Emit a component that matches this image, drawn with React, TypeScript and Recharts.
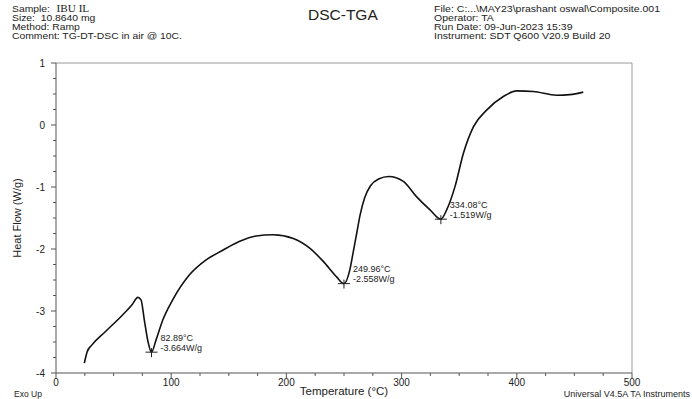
import React from 'react';
import { ComposedChart, Line, Scatter, XAxis, YAxis, ReferenceLine } from 'recharts';

// DSC trace (temperature in °C, heat flow in W/g)
const tempC = [
  24.6, 27, 31, 43, 58, 66, 71, 73.8, 76.7, 79.6, 82.89, 86.8, 92.6, 101.3, 115.7, 130,
  144.7, 159, 173.6, 188.6, 206, 220.5, 232, 243.6, 249.96, 255, 258, 261, 264, 268, 273,
  280, 289, 301.5, 313.1, 324.7, 334.08, 339.1, 346.4, 353.6, 362.3, 373.8, 388.3, 399.9,
  414.3, 434.6, 446, 457.7,
];
const heatFlow = [
  -3.84, -3.66, -3.55, -3.33, -3.06, -2.9, -2.78, -2.82, -3.15, -3.47, -3.664, -3.47, -3.15,
  -2.82, -2.42, -2.18, -2.02, -1.88, -1.79, -1.77, -1.83, -1.99, -2.2, -2.45, -2.558, -2.34,
  -2.05, -1.75, -1.45, -1.17, -0.98, -0.87, -0.83, -0.91, -1.16, -1.37, -1.519, -1.37, -0.99,
  -0.46, -0.03, 0.24, 0.46, 0.55, 0.54, 0.48, 0.49, 0.53,
];

// marked minima
const peakTemp = [82.89, 249.96, 334.08];
const peakFlow = [-3.664, -2.558, -1.519];

const xMajor = [0, 100, 200, 300, 400, 500];
const yMajor = [1, 0, -1, -2, -3, -4];

const headerLeft = ['Size:  10.8640 mg', 'Method: Ramp', 'Comment: TG-DT-DSC in air @ 10C.'];
const headerRight = [
  'File: C:...\\MAY23\\prashant oswal\\Composite.001',
  'Operator: TA',
  'Run Date: 09-Jun-2023 15:39',
  'Instrument: SDT Q600 V20.9 Build 20',
];

const curve = tempC.map((t, i) => ({ t, v: heatFlow[i] }));
const peaks = peakTemp.map((t, i) => ({ t, v: peakFlow[i] }));
const xTicks = Array.from({ length: 21 }, (_, i) => i * 25);
const yTicks = Array.from({ length: 21 }, (_, i) => -4 + i * 0.25);

const font = '"Liberation Sans", Arial, sans-serif';
const ink = '#222';

const XTick = (props: any) => {
  const { x, y, payload } = props;
  const major = xMajor.includes(payload.value);
  return (
    <g>
      <line x1={x} y1={y} x2={x} y2={y + (major ? 5 : 3)} stroke="#555" />
      {major && (
        <text x={x} y={y + 13} textAnchor="middle" fontSize={10} fontFamily={font} fill={ink}>
          {payload.value}
        </text>
      )}
    </g>
  );
};

const YTick = (props: any) => {
  const { x, y, payload } = props;
  const major = yMajor.includes(payload.value);
  return (
    <g>
      <line x1={x} y1={y} x2={x - (major ? 5 : 3)} y2={y} stroke="#555" />
      {major && (
        <text x={x - 11} y={y + 3.5} textAnchor="end" fontSize={10} fontFamily={font} fill={ink}>
          {payload.value}
        </text>
      )}
    </g>
  );
};

const PeakMark = (props: any) => {
  const { cx, cy, payload } = props;
  return (
    <g>
      <line x1={cx - 6} y1={cy} x2={cx + 6} y2={cy} stroke={ink} />
      <line x1={cx} y1={cy - 4} x2={cx} y2={cy + 5} stroke={ink} />
      <text x={cx + 9} y={cy - 11.5} fontSize={9} fontFamily={font} fill={ink}>
        {payload.t.toFixed(2)}°C
      </text>
      <text x={cx + 9} y={cy - 1.5} fontSize={9} fontFamily={font} fill={ink}>
        {payload.v.toFixed(3)}W/g
      </text>
    </g>
  );
};

const lineStyle: React.CSSProperties = {
  position: 'absolute',
  fontFamily: font,
  color: ink,
  whiteSpace: 'pre',
};

const Header = () => (
  <svg width={692} height={50} style={{ position: 'absolute', left: 0, top: 0 }}>
    <g transform="translate(12,0) scale(1.1,1)" fontFamily={font} fontSize={9.4} fill={ink}>
      <text x={0} y={12}>
        Sample:
        <tspan dx={6} fontFamily='"Liberation Serif", serif' fontSize={10.2}>IBU IL</tspan>
      </text>
      {headerLeft.map((s, i) => (
        <text key={s} x={0} y={21 + i * 9} style={{ whiteSpace: 'pre' }}>{s}</text>
      ))}
    </g>
    <text x={308} y={20} fontFamily={font} fontSize={15.5} fill={ink}>DSC-TGA</text>
    <g transform="translate(434,0) scale(1.12,1)" fontFamily={font} fontSize={9.4} fill={ink}>
      {headerRight.map((s, i) => (
        <text key={s} x={0} y={12 + i * 9}>{s}</text>
      ))}
    </g>
  </svg>
);

export default function App() {
  return (
    <div style={{ position: 'absolute', left: 0, top: 0, width: 692, height: 399, background: '#fff', overflow: 'hidden' }}>
      <Header />

      <div
        style={{
          ...lineStyle,
          fontSize: 11,
          lineHeight: '12px',
          height: 12,
          left: 17,
          top: 218,
          transform: 'translate(-50%, -50%) rotate(-90deg)',
        }}
      >
        Heat Flow (W/g)
      </div>
      <div style={{ ...lineStyle, fontSize: 8.5, lineHeight: '10px', height: 10, left: 14, top: 389 }}>Exo Up</div>
      <div
        style={{
          ...lineStyle,
          fontSize: 11.5,
          lineHeight: '13px',
          height: 13,
          left: 344,
          top: 385,
          transform: 'translateX(-50%)',
        }}
      >
        Temperature (°C)
      </div>
      <div style={{ ...lineStyle, fontSize: 9, lineHeight: '10px', height: 10, right: 2, top: 389 }}>
        Universal V4.5A TA Instruments
      </div>

      <div style={{ position: 'absolute', left: 0, top: 0 }}>
        <ComposedChart width={692} height={399} margin={{ top: 63, right: 60, bottom: 0, left: 0 }}>
          <XAxis
            type="number"
            dataKey="t"
            domain={[0, 500]}
            ticks={xTicks}
            interval={0}
            tickSize={0}
            tickMargin={0}
            tickLine={false}
            tick={XTick}
            height={26}
            axisLine={{ stroke: '#555' }}
          />
          <YAxis
            type="number"
            dataKey="v"
            domain={[-4, 1]}
            ticks={yTicks}
            interval={0}
            tickSize={0}
            tickMargin={0}
            tickLine={false}
            tick={YTick}
            width={56}
            axisLine={{ stroke: '#555' }}
          />
          <ReferenceLine y={1} stroke="#999" />
          <ReferenceLine x={500} stroke="#999" />
          <Line
            data={curve}
            dataKey="v"
            type="monotone"
            stroke="#111"
            strokeWidth={1.6}
            dot={false}
            isAnimationActive={false}
          />
          <Scatter data={peaks} dataKey="v" shape={PeakMark} isAnimationActive={false} />
        </ComposedChart>
      </div>
    </div>
  );
}
